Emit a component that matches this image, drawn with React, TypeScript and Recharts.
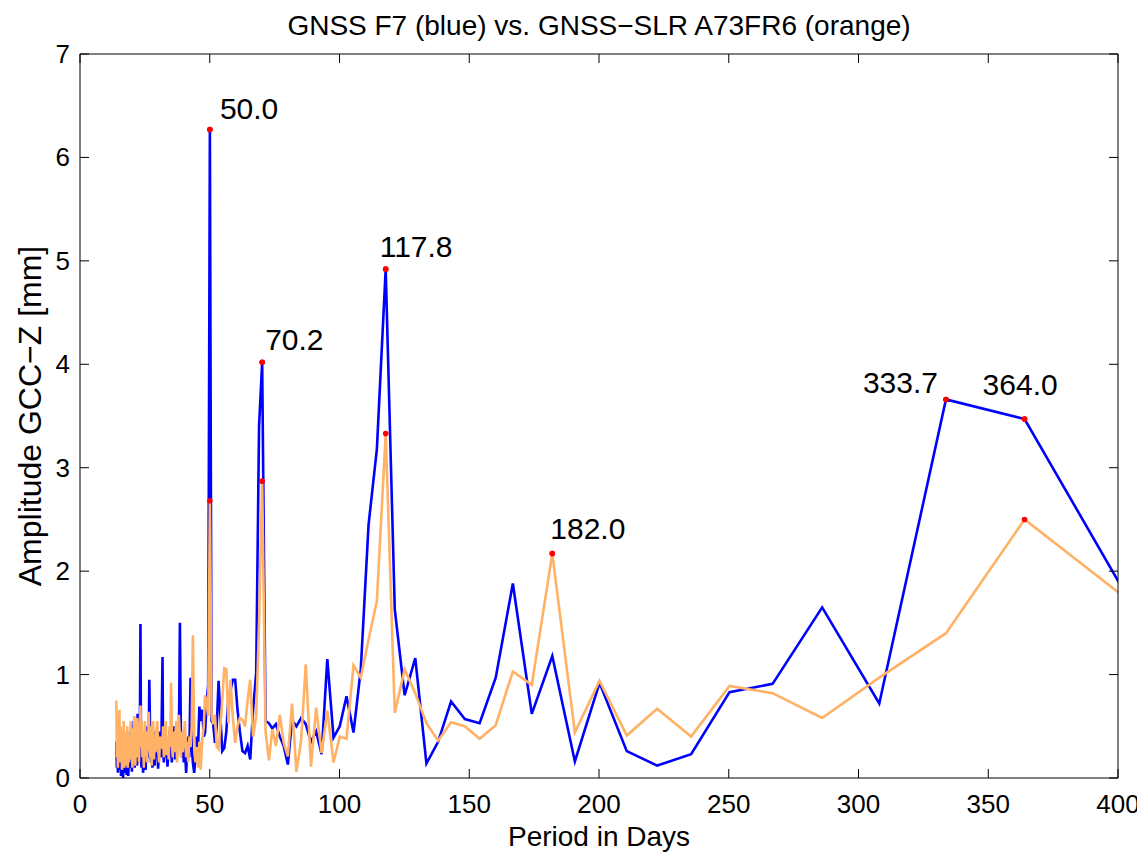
import React from 'react';
import { LineChart, Line, XAxis, YAxis, ReferenceDot } from 'recharts';

const FONT = '"Liberation Sans", Arial, Helvetica, sans-serif';

// spectrum periods in days (shared by both series)
const periods = [
  14.0, 14.2, 14.4, 14.6, 14.8, 15.0, 15.2, 15.4, 15.6, 15.8, 16.0, 16.2, 16.4, 16.6, 16.8, 17.1, 17.3, 17.5,
  17.7, 18.0, 18.2, 18.4, 18.6, 18.9, 19.1, 19.3, 19.5, 19.8, 20.0, 20.2, 20.4, 20.7, 20.9, 21.1, 21.3, 21.6,
  21.8, 22.0, 22.2, 22.5, 22.75, 23.0, 23.3, 23.5, 23.7, 24.1, 24.3, 24.6, 24.8, 25.0, 25.3, 25.5, 25.8, 26.0,
  26.3, 26.5, 26.7, 27.1, 27.4, 27.6, 27.9, 28.2, 28.5, 28.8, 29.1, 29.4, 29.8, 30.1, 30.5, 30.8, 31.3, 31.8,
  32.0, 32.3, 32.8, 33.1, 33.4, 33.7, 34.2, 34.5, 34.8, 35.1, 35.4, 35.75, 36.1, 36.4, 36.7, 37.1, 37.4, 37.8,
  38.1, 38.5, 38.9, 39.3, 39.6, 40.0, 40.4, 40.9, 41.3, 41.7, 42.1, 42.6, 43.05, 43.5, 44.0, 44.5, 45.0, 45.5,
  46.0, 46.5, 47.1, 47.7, 48.2, 48.8, 49.4, 50.05, 50.7, 51.3, 52.0, 52.7, 53.4, 54.1, 54.8, 55.6, 56.4, 57.2,
  58.0, 58.9, 59.8, 60.7, 61.6, 62.6, 63.6, 64.6, 65.6, 66.7, 67.9, 69.0, 70.2, 71.5, 72.8, 74.1, 75.5, 77.0,
  78.5, 80.1, 81.7, 83.4, 85.2, 87.0, 89.0, 91.0, 93.1, 95.3, 97.7, 100.1, 102.7, 105.4, 108.2, 111.2, 114.4,
  117.8, 121.3, 125.1, 129.2, 133.5, 138.0, 143.0, 148.3, 154.0, 160.2, 166.8, 174.1, 182.0, 190.7, 200.2,
  210.7, 222.4, 235.5, 250.3, 266.9, 286.0, 308.0, 333.7, 364.0, 400.4,
];

// GNSS F7 amplitude [mm]
const blueAmp = [
  0.35, 0.10, 0.30, 0.05, 0.25, 0.12, 0.40, 0.08, 0.30, 0.02, 0.22, 0.05, 0.25, 0.00, 0.18, 0.05, 0.35, 0.10,
  0.20, 0.03, 0.25, 0.08, 0.02, 0.30, 0.10, 0.45, 0.12, 0.35, 0.06, 0.40, 0.15, 0.55, 0.20, 0.10, 0.48, 0.15,
  0.30, 0.12, 0.62, 0.20, 0.35, 0.15, 1.49, 0.25, 0.10, 0.30, 0.05, 0.22, 0.40, 0.10, 0.08, 0.35, 0.15, 0.50,
  0.20, 0.30, 0.95, 0.30, 0.15, 0.40, 0.10, 0.25, 0.45, 0.12, 0.35, 0.20, 0.40, 0.09, 0.30, 0.45, 0.20, 1.17,
  0.30, 0.15, 0.40, 0.20, 0.35, 0.11, 0.30, 0.45, 0.20, 0.35, 0.15, 0.40, 0.25, 0.50, 0.18, 0.35, 0.22, 0.45,
  0.30, 1.50, 0.35, 0.20, 0.45, 0.15, 0.30, 0.05, 0.25, 0.40, 0.20, 0.97, 0.30, 0.15, 0.05, 0.20, 0.40, 0.30,
  0.69, 0.55, 0.66, 0.40, 0.44, 0.73, 0.90, 6.27, 0.55, 0.53, 0.34, 0.50, 0.94, 0.60, 0.26, 0.29, 0.45, 0.79,
  0.85, 0.95, 0.95, 0.66, 0.45, 0.26, 0.24, 0.31, 0.18, 0.66, 1.02, 3.40, 4.02, 0.55, 0.53, 0.48, 0.52, 0.40,
  0.31, 0.13, 0.56, 0.50, 0.58, 0.52, 0.35, 0.45, 0.23, 1.15, 0.39, 0.50, 0.79, 0.44, 1.05, 2.45, 3.18,
  4.92, 1.63, 0.80, 1.16, 0.14, 0.35, 0.74, 0.57, 0.53, 0.97, 1.88, 0.62, 1.18, 0.16, 0.92,
  0.26, 0.12, 0.23, 0.83, 0.91, 1.65, 0.72, 3.66, 3.47, 1.89,
];

// GNSS-SLR A73FR6 amplitude [mm]
const orangeAmp = [
  0.75, 0.20, 0.62, 0.10, 0.55, 0.30, 0.66, 0.15, 0.50, 0.25, 0.45, 0.08, 0.40, 0.20, 0.55, 0.10, 0.35, 0.12,
  0.45, 0.20, 0.50, 0.10, 0.38, 0.15, 0.40, 0.25, 0.55, 0.18, 0.35, 0.10, 0.48, 0.22, 0.60, 0.30, 0.12, 0.45,
  0.20, 0.58, 0.25, 0.40, 0.15, 0.50, 0.70, 0.30, 0.55, 0.20, 0.45, 0.10, 0.38, 0.55, 0.22, 0.40, 0.15, 0.45,
  0.30, 0.64, 0.35, 0.20, 0.50, 0.12, 0.35, 0.55, 0.18, 0.40, 0.25, 0.45, 0.55, 0.30, 0.15, 0.40, 0.35, 0.28,
  0.50, 0.20, 0.45, 0.55, 0.22, 0.40, 0.18, 0.50, 0.30, 0.92, 0.35, 0.20, 0.45, 0.25, 0.40, 0.55, 0.15, 0.35,
  0.61, 0.40, 0.20, 0.45, 0.25, 0.38, 0.55, 0.20, 0.35, 0.15, 0.40, 0.30, 0.50, 1.38, 0.40, 0.15, 0.30, 0.10,
  0.35, 0.08, 0.37, 0.50, 0.80, 0.72, 0.60, 2.68, 0.62, 0.52, 0.61, 0.30, 0.28, 0.50, 0.75, 1.06, 1.05, 0.53,
  0.95, 0.58, 0.34, 0.50, 0.58, 0.56, 0.50, 0.75, 0.95, 0.40, 0.60, 1.50, 2.87, 0.45, 0.17, 0.47, 0.31, 0.61,
  0.34, 0.21, 0.72, 0.06, 0.36, 1.10, 0.11, 0.68, 0.24, 0.65, 0.15, 0.40, 0.38, 1.09, 0.97, 1.34, 1.71,
  3.33, 0.63, 1.05, 0.82, 0.53, 0.36, 0.54, 0.50, 0.38, 0.51, 1.03, 0.90, 2.17, 0.44, 0.94,
  0.41, 0.67, 0.40, 0.89, 0.82, 0.58, 0.97, 1.40, 2.50, 1.79,
];

const xTicks = [0, 50, 100, 150, 200, 250, 300, 350, 400];
const yTicks = [0, 1, 2, 3, 4, 5, 6, 7];

// red markers
const bluePeaks = [50.05, 70.2, 117.8, 333.7, 364.0];
const orangePeaks = [50.05, 70.2, 117.8, 182.0, 364.0];

// annotated peaks
const labelPeriods = [50.05, 70.2, 117.8, 182.0, 333.7, 364.0];
const labelTexts = ['50.0', '70.2', '117.8', '182.0', '333.7', '364.0'];
const labelSeries = ['blue', 'blue', 'blue', 'orange', 'blue', 'blue'];

// text placement relative to the marker (px)
const labelOffset: Record<string, [number, number]> = {
  '50.0': [10, -11],
  '70.2': [3, -12],
  '117.8': [-6, -12],
  '182.0': [-2, -15],
  '333.7': [-83, -6],
  '364.0': [-42, -24],
};

const rows = periods.map((p, i) => ({ period: p, blue: blueAmp[i], orange: orangeAmp[i] }));

const BLUE = '#0000ff';
const ORANGE = '#ffb266';
const TICK_LEN = 9;
const TICK_FONT = 26;

const makeDot = (peaks: number[]) => (props: any) => {
  const { cx, cy, payload, index } = props;
  if (!peaks.includes(payload.period)) return <g key={`d${index}`} />;
  return <circle key={`d${index}`} cx={cx} cy={cy} r={2.8} fill="#ff0000" stroke="none" />;
};

// MATLAB style inward ticks, label outside
const BottomTick = (props: any) => {
  const { x, y, payload } = props;
  return (
    <g>
      <line x1={x} y1={y} x2={x} y2={y - TICK_LEN} stroke="#000" strokeWidth={1} />
      <text x={x} y={y + 35} textAnchor="middle" fontSize={TICK_FONT} fontFamily={FONT} fill="#000">
        {payload.value}
      </text>
    </g>
  );
};

const TopTick = (props: any) => {
  const { x, y } = props;
  return <line x1={x} y1={y} x2={x} y2={y + TICK_LEN} stroke="#000" strokeWidth={1} />;
};

const LeftTick = (props: any) => {
  const { x, y, payload } = props;
  return (
    <g>
      <line x1={x} y1={y} x2={x + TICK_LEN} y2={y} stroke="#000" strokeWidth={1} />
      <text x={x - 10} y={y + 9} textAnchor="end" fontSize={TICK_FONT} fontFamily={FONT} fill="#000">
        {payload.value}
      </text>
    </g>
  );
};

const RightTick = (props: any) => {
  const { x, y } = props;
  return <line x1={x} y1={y} x2={x - TICK_LEN} y2={y} stroke="#000" strokeWidth={1} />;
};

const TitleLabel = ({ viewBox }: any) => (
  <text
    x={viewBox.x + viewBox.width / 2}
    y={27}
    textAnchor="middle"
    fontSize={28}
    fontFamily={FONT}
    fill="#000"
  >
    GNSS F7 (blue) vs. GNSS−SLR A73FR6 (orange)
  </text>
);

const XLabel = ({ viewBox }: any) => (
  <text
    x={viewBox.x + viewBox.width / 2}
    y={viewBox.y + 68}
    textAnchor="middle"
    fontSize={28}
    fontFamily={FONT}
    fill="#000"
  >
    Period in Days
  </text>
);

const YLabel = ({ viewBox }: any) => {
  const cx = viewBox.x + 22;
  const cy = viewBox.y + viewBox.height / 2;
  return (
    <text
      x={cx}
      y={cy}
      transform={`rotate(-90, ${cx}, ${cy})`}
      textAnchor="middle"
      dominantBaseline="central"
      fontSize={32}
      fontFamily={FONT}
      fill="#000"
    >
      Amplitude GCC−Z [mm]
    </text>
  );
};

const peakText = (text: string) => (props: any) => {
  const vb = props.viewBox;
  const cx = vb.x + vb.width / 2;
  const cy = vb.y + vb.height / 2;
  const [dx, dy] = labelOffset[text];
  return (
    <text x={cx + dx} y={cy + dy} fontSize={30} fontFamily={FONT} fill="#000">
      {text}
    </text>
  );
};

export default function App() {
  return (
    <div style={{ width: 1137, height: 845, fontFamily: FONT }}>
      <LineChart width={1137} height={845} data={rows} margin={{ top: 45, right: 26, bottom: 0, left: 0 }}>
        <XAxis
          xAxisId="b"
          type="number"
          dataKey="period"
          domain={[0, 400]}
          ticks={xTicks}
          interval={0}
          allowDataOverflow
          height={75}
          tickSize={0}
          tickMargin={0}
          tickLine={false}
          stroke="#000"
          tick={BottomTick}
          label={XLabel}
        />
        <XAxis
          xAxisId="t"
          orientation="top"
          type="number"
          dataKey="period"
          domain={[0, 400]}
          ticks={xTicks}
          interval={0}
          allowDataOverflow
          height={1}
          tickSize={0}
          tickMargin={0}
          tickLine={false}
          tick={TopTick}
          stroke="#000"
          label={TitleLabel}
        />
        <YAxis
          yAxisId="l"
          type="number"
          domain={[0, 7]}
          ticks={yTicks}
          interval={0}
          allowDataOverflow
          width={72}
          tickSize={0}
          tickMargin={0}
          tickLine={false}
          stroke="#000"
          tick={LeftTick}
          label={YLabel}
        />
        <YAxis
          yAxisId="r"
          orientation="right"
          type="number"
          domain={[0, 7]}
          ticks={yTicks}
          interval={0}
          allowDataOverflow
          width={1}
          tickSize={0}
          tickMargin={0}
          tickLine={false}
          tick={RightTick}
          stroke="#000"
        />
        <Line
          xAxisId="b"
          yAxisId="l"
          type="linear"
          dataKey="blue"
          stroke={BLUE}
          strokeWidth={2.6}
          dot={makeDot(bluePeaks)}
          activeDot={false}
          isAnimationActive={false}
        />
        <Line
          xAxisId="b"
          yAxisId="l"
          type="linear"
          dataKey="orange"
          stroke={ORANGE}
          strokeWidth={2.6}
          dot={makeDot(orangePeaks)}
          activeDot={false}
          isAnimationActive={false}
        />
        {labelPeriods.map((p, i) => {
          const idx = periods.indexOf(p);
          const y = labelSeries[i] === 'blue' ? blueAmp[idx] : orangeAmp[idx];
          return (
            <ReferenceDot
              key={labelTexts[i]}
              xAxisId="b"
              yAxisId="l"
              x={p}
              y={y}
              r={2.8}
              fill="#ff0000"
              stroke="none"
              label={peakText(labelTexts[i])}
            />
          );
        })}
      </LineChart>
    </div>
  );
}
